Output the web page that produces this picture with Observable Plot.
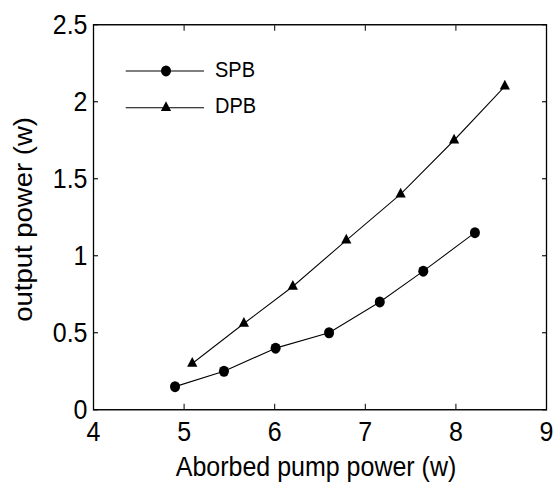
<!DOCTYPE html>
<html>
<head>
<meta charset="utf-8">
<script src="https://cdn.jsdelivr.net/npm/d3@7"></script>
<script src="https://cdn.jsdelivr.net/npm/@observablehq/plot@0.6"></script>
<style>
  html, body { margin: 0; padding: 0; background: #fff; color: #000; }
  #chart { width: 556px; height: 483px; overflow: visible; }
  #chart svg { display: block; overflow: visible; transform: scale(1, 1.1); transform-origin: 0 0; }
</style>
</head>
<body>
<div id="chart"></div>
<script>
// ---- data ----
const seriesNames = ["SPB", "DPB"];
const spbX = [4.9, 5.44, 6.01, 6.6, 7.16, 7.64, 8.21];
const spbY = [0.15, 0.25, 0.4, 0.5, 0.7, 0.9, 1.15];
const dpbX = [5.09, 5.66, 6.2, 6.79, 7.39, 7.98, 8.54];
const dpbY = [0.3, 0.56, 0.8, 1.1, 1.4, 1.75, 2.1];
const xTicks = [4, 5, 6, 7, 8, 9];
const yTicks = [0, 0.5, 1, 1.5, 2, 2.5];
const xTitle = "Aborbed pump power (w)";
const yTitle = "output power (w)";

const spb = spbX.map((x, i) => ({x, y: spbY[i]}));
const dpb = dpbX.map((x, i) => ({x, y: dpbY[i]}));

const FONT = "'Liberation Sans', Arial, Helvetica, sans-serif";
const blank = () => "";

const svg = Plot.plot({
  width: 556,
  height: 439,
  marginLeft: 93,
  marginRight: 10,
  marginTop: 22,
  marginBottom: 67,
  style: {fontFamily: FONT, fontSize: "25px", color: "#000", background: "#fff", overflow: "visible"},
  x: {domain: [4, 9]},
  y: {domain: [0, 2.5]},
  marks: [
    Plot.frame({stroke: "#000", strokeWidth: 1.3}),
    Plot.axisX({ticks: xTicks, anchor: "bottom", tickSize: 0, tickPadding: 11, tickFormat: d => String(d), label: null}),
    Plot.axisX({ticks: xTicks, anchor: "bottom", tickSize: -5, tickFormat: blank, label: null}),
    Plot.axisX({ticks: xTicks, anchor: "top", tickSize: -5, tickFormat: blank, label: null}),
    Plot.axisY({ticks: yTicks, anchor: "left", tickSize: 0, tickPadding: 6, tickFormat: d => String(d), label: null}),
    Plot.axisY({ticks: yTicks, anchor: "left", tickSize: -5, tickFormat: blank, label: null}),
    Plot.axisY({ticks: yTicks, anchor: "right", tickSize: -5, tickFormat: blank, label: null}),
    Plot.line(spb, {x: "x", y: "y", stroke: "#000", strokeWidth: 1}),
    Plot.dot(spb, {x: "x", y: "y", r: 5, fill: "#000", symbol: "circle"}),
    Plot.line(dpb, {x: "x", y: "y", stroke: "#000", strokeWidth: 1}),
    Plot.dot(dpb, {x: "x", y: "y", r: 3.8, fill: "#000", symbol: "triangle"}),
    Plot.text([xTitle], {text: d => d, frameAnchor: "bottom", textAnchor: "middle", dx: -4, dy: 60.5, lineAnchor: "bottom", fontSize: 25, fill: "#000"}),
    Plot.text([yTitle], {text: d => d, frameAnchor: "left", textAnchor: "middle", dx: -62, dy: 2, rotate: -90, lineAnchor: "bottom", fontSize: 25, fill: "#000"})
  ]
});

// ---- legend (inside the plot, top-left) ----
const legend = d3.select(svg).append("g")
  .attr("font-family", FONT).attr("font-size", 20).attr("fill", "#000").attr("text-anchor", "start");
const legendRows = [
  {name: seriesNames[0], y: 64.5, base: 69.7, symbol: d3.symbolCircle, size: Math.PI * 5 * 5},
  {name: seriesNames[1], y: 97.9, base: 102.8, symbol: d3.symbolTriangle, size: Math.PI * 3.8 * 3.8}
];
for (const row of legendRows) {
  legend.append("line").attr("x1", 125.7).attr("x2", 204).attr("y1", row.y).attr("y2", row.y)
    .attr("stroke", "#000").attr("stroke-width", 1);
  legend.append("path").attr("d", d3.symbol(row.symbol, row.size)()).attr("transform", `translate(166,${row.y})`)
    .attr("fill", "#000");
  legend.append("text").attr("x", 215).attr("y", row.base).attr("text-anchor", "start").text(row.name);
}

document.getElementById("chart").appendChild(svg);
</script>
</body>
</html>
